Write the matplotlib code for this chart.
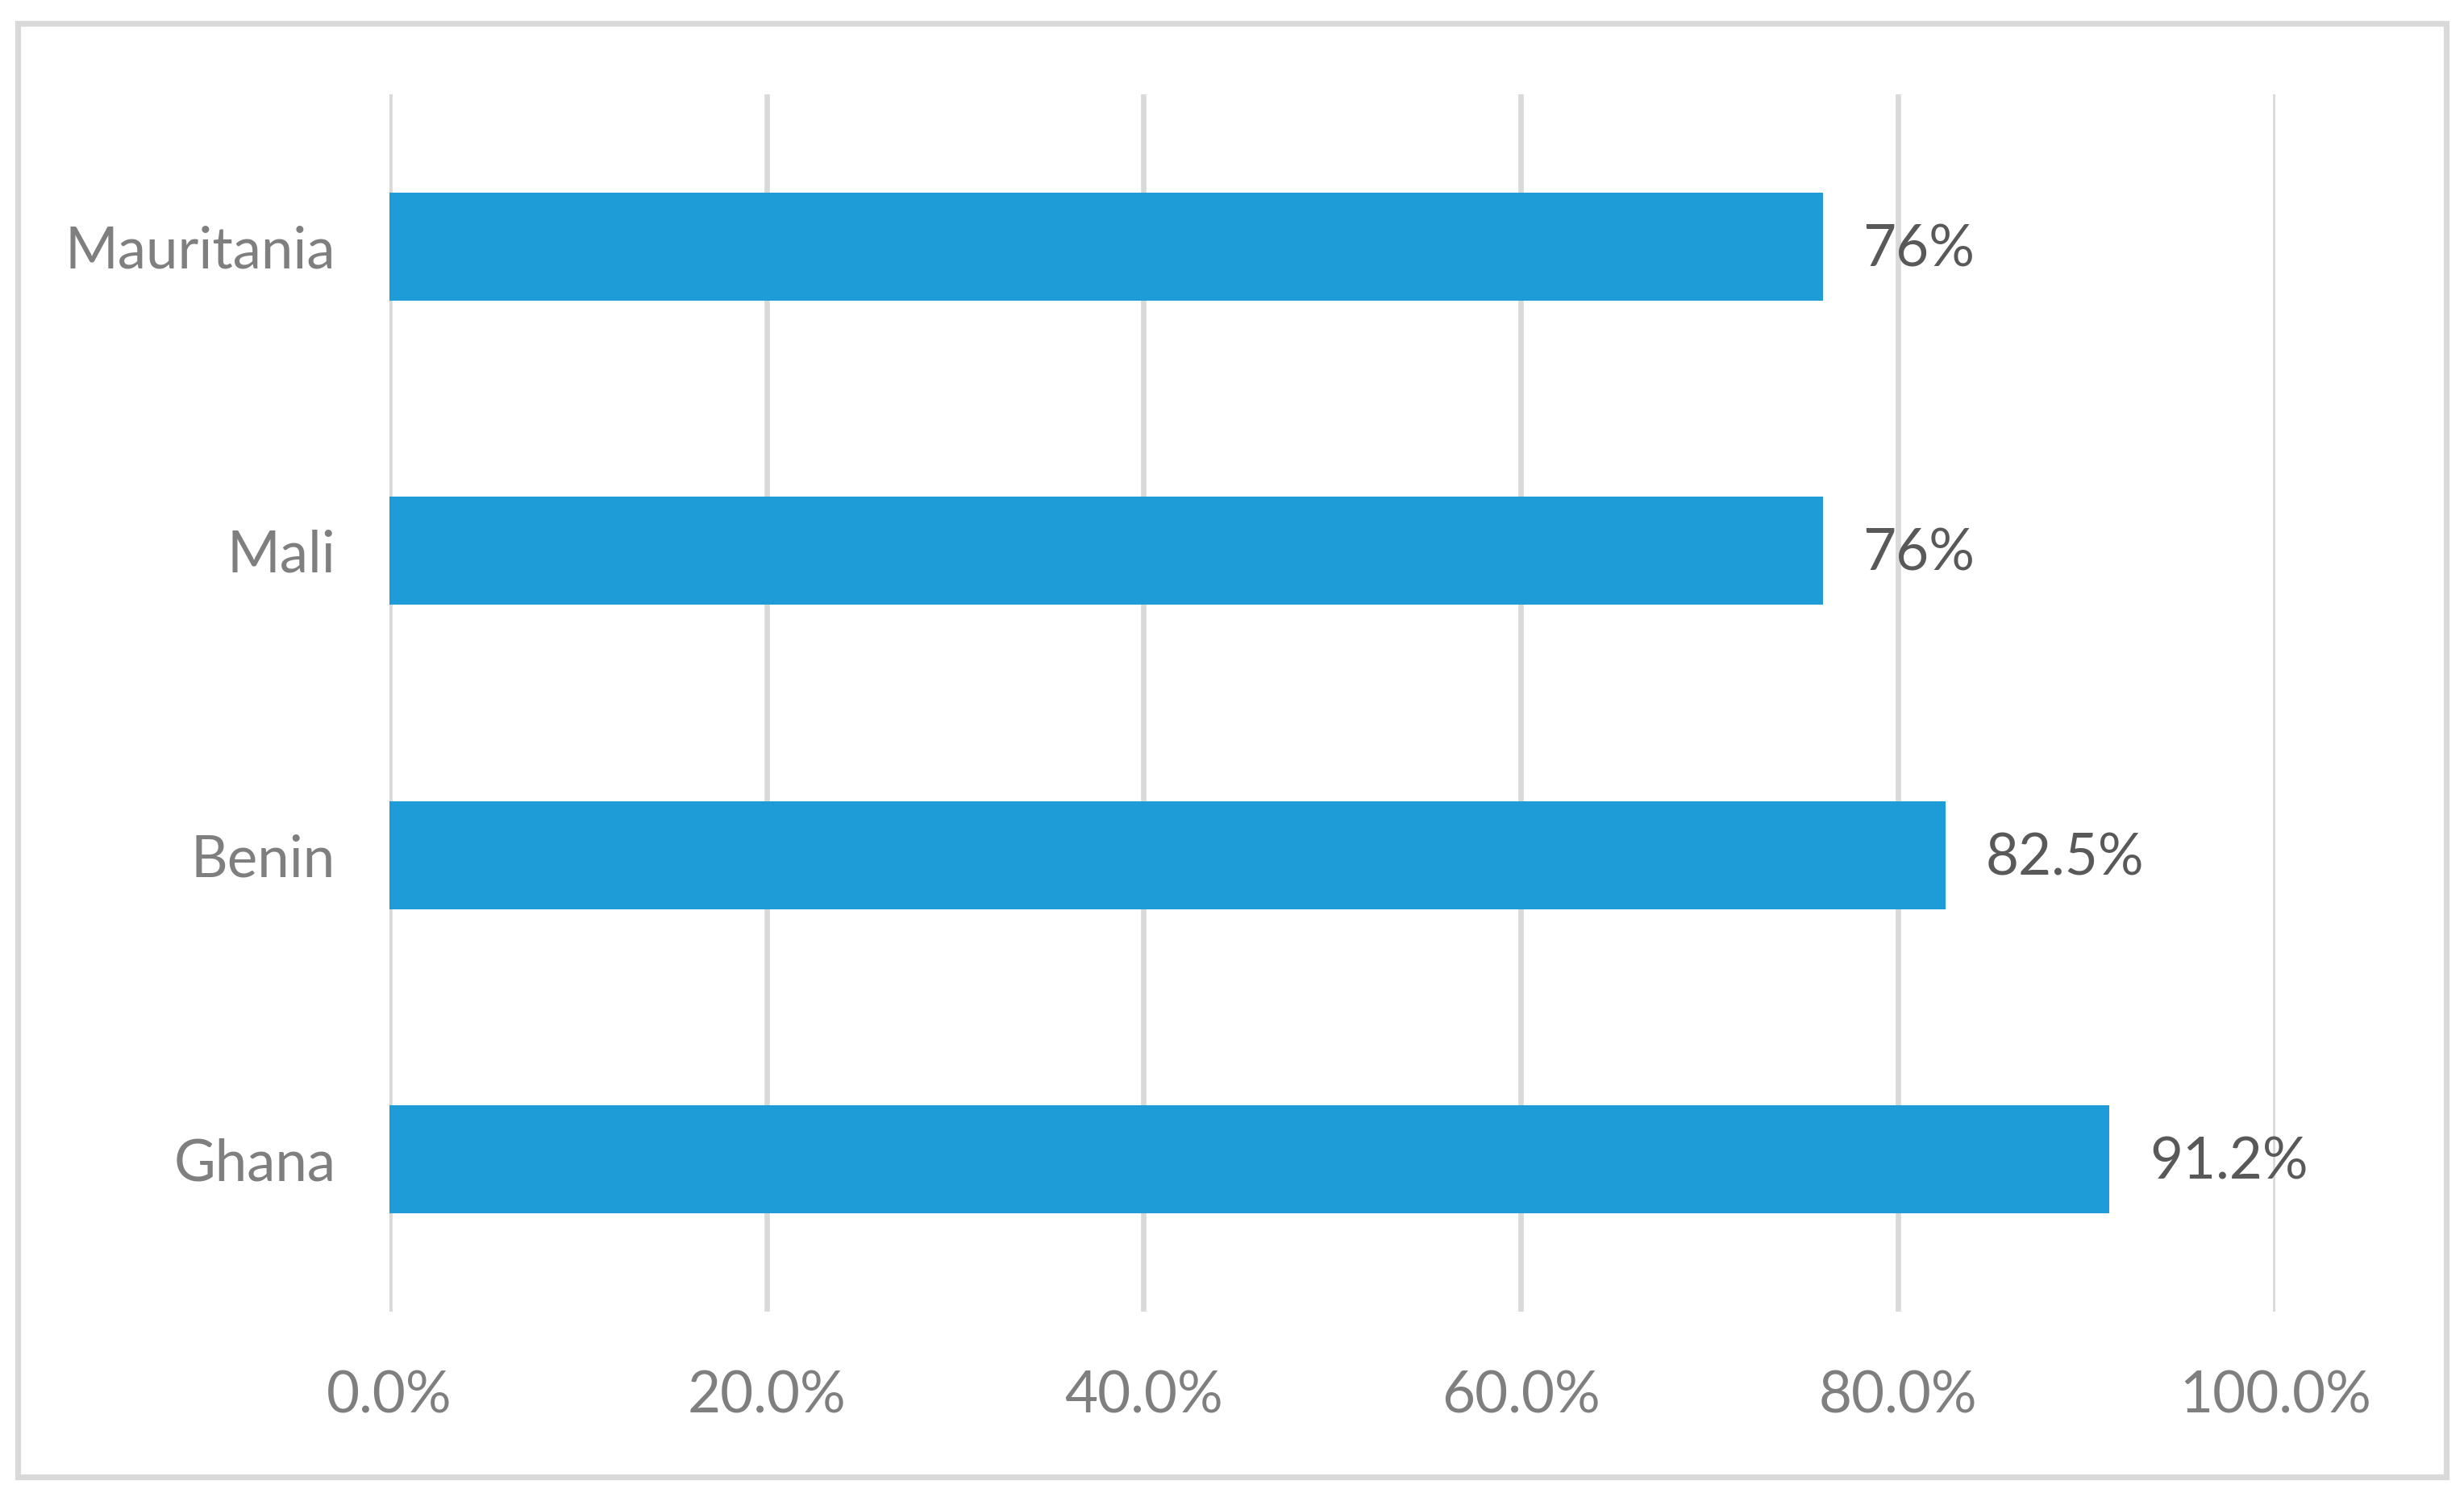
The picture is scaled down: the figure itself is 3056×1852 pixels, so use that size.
import matplotlib
matplotlib.use("Agg")
import matplotlib.pyplot as plt
from matplotlib.patches import Rectangle
from matplotlib.ticker import FuncFormatter

countries = ["Ghana", "Benin", "Mali", "Mauritania"]
values = [0.912, 0.825, 0.76, 0.76]
value_labels = ["91.2%", "82.5%", "76%", "76%"]
x_ticks = [0.0, 0.2, 0.4, 0.6, 0.8, 1.0]

plt.rcParams['font.family'] = ['Lato', 'DejaVu Sans']

fig = plt.figure(figsize=(15.28, 9.26), dpi=200)
fig.patch.set_facecolor("white")
ax = fig.add_axes([0.158, 0.1215, 0.9234 - 0.158, 0.9368 - 0.1215])

ypos = list(range(len(countries)))
ax.barh(ypos, values, height=0.356, color="#1E9CD8", zorder=3)

for y, v, lab in zip(ypos, values, value_labels):
    ax.annotate(lab, xy=(v, y), xytext=(18, -1.5), textcoords="offset points",
                va="center", ha="left", fontsize=25.5, color="#595959")

ax.set_xlim(0, 1.0)
ax.set_ylim(-0.5, len(countries) - 0.5)
ax.set_xticks(x_ticks)
ax.xaxis.set_major_formatter(FuncFormatter(lambda v, p: f"{v*100:.1f}%"))
ax.set_yticks(ypos)
ax.set_yticklabels(countries)

ax.grid(axis="x", color="#D9D9D9", linewidth=2.4, zorder=0)
ax.grid(axis="y", visible=False)
for s in ax.spines.values():
    s.set_visible(False)
ax.tick_params(axis="both", length=0, labelsize=25.5, labelcolor="#7F7F7F")
ax.tick_params(axis="x", pad=26)
ax.tick_params(axis="y", pad=24)

# outer chart border
fig.patches.append(Rectangle((22 / 3056, 1 - 1832 / 1852), (3034 - 22) / 3056, (1832 - 29) / 1852,
                             transform=fig.transFigure, fill=False,
                             edgecolor="#D9D9D9", linewidth=2.6, zorder=10))

fig.savefig("out.png", dpi=200, facecolor="white")
